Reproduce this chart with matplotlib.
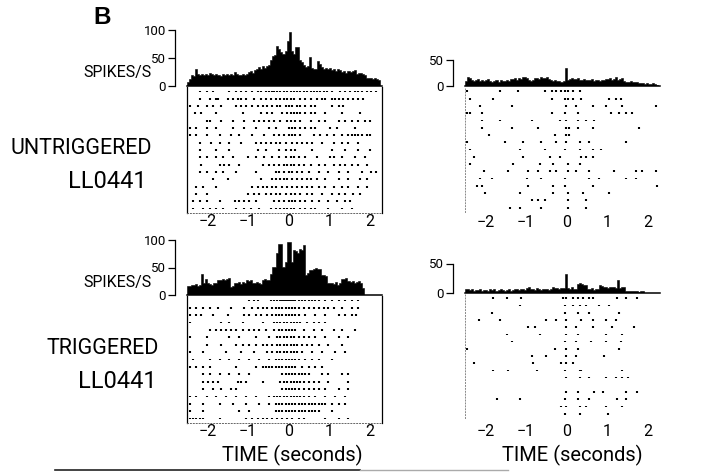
import numpy as np
import matplotlib
matplotlib.use('Agg')
import matplotlib.pyplot as plt
from matplotlib.lines import Line2D

plt.rcParams['font.family'] = ['Roboto', 'DejaVu Sans']

W, H = 714, 472

# bin edges of the rate histograms (seconds), 50 ms bins
bin_edges = np.linspace(-2.5, 2.25, 96)

# spikes/s, untriggered, left cell
u_left_rate = [8, 12, 20, 18, 30, 22, 19, 21, 20, 22,
               19, 23, 21, 20, 22, 20, 18, 21, 20, 22,
               19, 21, 20, 25, 21, 20, 19, 22, 20, 21,
               25, 27, 24, 29, 31, 34, 30, 36, 33, 35,
               38, 46, 53, 55, 71, 66, 60, 58, 62, 80,
               97, 62, 58, 70, 70, 46, 42, 38, 34, 36,
               51, 33, 31, 30, 45, 40, 34, 30, 32, 30,
               33, 29, 31, 27, 30, 28, 25, 26, 24, 27,
               25, 26, 28, 22, 23, 24, 22, 20, 14, 15,
               14, 13, 15, 12, 10]

# spikes/s, untriggered, right cell
u_right_rate = [10, 18, 16, 12, 9, 11, 13, 10, 12, 9,
                11, 14, 9, 7, 10, 12, 8, 11, 10, 9,
                12, 10, 14, 13, 15, 12, 16, 14, 18, 17,
                15, 11, 10, 12, 16, 15, 13, 17, 15, 16,
                17, 14, 12, 10, 11, 9, 10, 8, 10, 35,
                12, 14, 15, 13, 14, 16, 12, 11, 13, 12,
                12, 11, 13, 10, 12, 11, 9, 12, 11, 14,
                13, 15, 12, 14, 18, 12, 13, 15, 9, 8,
                7, 9, 8, 8, 8, 6, 5, 5, 4, 5,
                4, 3, 5, 3, 2]

# spikes/s, triggered, left cell
t_left_rate = [17, 16, 19, 18, 20, 16, 18, 38, 22, 30,
               21, 20, 19, 22, 21, 28, 27, 29, 28, 30,
               31, 15, 16, 22, 21, 23, 20, 24, 22, 27,
               26, 28, 22, 21, 24, 22, 20, 28, 29, 27,
               28, 39, 51, 51, 76, 93, 92, 51, 60, 97,
               96, 60, 82, 80, 76, 83, 82, 91, 36, 40,
               45, 46, 48, 50, 47, 48, 36, 36, 35, 21,
               21, 22, 20, 23, 19, 22, 30, 29, 31, 25,
               24, 26, 22, 23, 25, 22, 12, 0, 0, 0,
               0, 0, 0, 0, 0]

# spikes/s, triggered, right cell
t_right_rate = [6, 7, 5, 6, 4, 5, 5, 6, 4, 5,
                5, 4, 6, 5, 6, 4, 5, 6, 5, 4,
                5, 6, 4, 5, 7, 6, 5, 7, 6, 5,
                9, 10, 7, 6, 5, 8, 6, 5, 7, 6,
                6, 5, 7, 10, 9, 8, 7, 8, 9, 32,
                8, 6, 10, 7, 6, 16, 17, 15, 14, 13,
                7, 6, 8, 5, 6, 7, 14, 12, 10, 11,
                9, 10, 11, 10, 9, 22, 8, 10, 11, 4,
                3, 3, 4, 3, 3, 2, 3, 3, 0, 0,
                0, 0, 0, 0, 0]

# spike times (s) per trial, top trial first
u_left_spikes = [
    [-2.19, -2.02, -1.86, -1.46, -1.29, -1.17, -1.05, -0.89, -0.76, -0.68, -0.56, -0.48, -0.41, -0.36, -0.28, -0.20, -0.11, -0.03, 0.05, 0.13, 0.21, 0.29, 0.37, 0.46, 0.54, 0.62, 0.70, 0.78, 0.86, 0.94, 1.07, 1.27, 1.39, 1.51, 1.63, 1.72, 1.80, 1.92, 2.04, 2.16],
    [-2.19, -1.94, -1.78, -1.74, -1.50, -1.37, -1.25, -1.17, -1.05, -0.85, -0.68, -0.56, -0.44, -0.32, -0.20, -0.11, -0.03, 0.05, 0.13, 0.29, 0.41, 0.54, 0.70, 0.82, 0.90, 1.07, 1.15, 1.23, 1.35, 1.47, 1.59, 1.72, 1.84],
    [-2.43, -2.23, -2.02, -1.86, -1.66, -1.29, -1.17, -1.05, -0.89, -0.76, -0.64, -0.52, -0.40, -0.28, -0.20, -0.07, 0.01, 0.09, 0.21, 0.29, 0.41, 0.54, 0.66, 1.07, 1.23, 1.35],
    [-2.31, -2.15, -1.78, -1.13, -0.68, -0.52, -0.40, -0.15, -0.03, 0.05, 0.13, 0.21, 0.29, 0.41, 0.54, 0.66, 0.90, 1.31, 1.76],
    [-2.02, -1.94, -1.66, -1.37, -1.09, -0.85, -0.72, -0.60, -0.48, -0.36, -0.20, -0.03, 0.05, 0.17, 0.29, 0.54, 0.74, 0.90, 1.23, 1.39, 1.55, 1.72, 1.88, 2.00],
    [-2.43, -2.27, -2.02, -1.78, -1.37, -1.09, -0.80, -0.48, -0.32, 0.01, 0.09, 0.17, 0.29, 0.41, 0.54, 0.66, 1.02, 1.19, 1.63],
    [-2.43, -2.27, -2.02, -1.70, -1.41, -1.21, -0.89, -0.60, -0.36, -0.24, -0.11, 0.01, 0.09, 0.17, 0.29, 0.62, 0.78, 0.94, 1.11, 1.31, 1.47, 1.55, 1.63, 1.72, 1.80, 1.92, 2.00],
    [-2.19, -1.90, -1.70, -1.46, -1.17, -0.80, -0.68, -0.56, -0.44, -0.32, -0.20, -0.07, 0.09, 0.21, 0.33, 0.46, 0.58, 0.82, 1.11, 1.31, 1.47, 1.72],
    [-2.19, -1.78, -1.46, -0.76, -0.56, -0.24, -0.07, 0.05, 0.17, 0.58, 1.07, 1.39, 1.72, 2.00],
    [-2.19, -2.02, -1.78, -1.62, -1.37, -1.01, -0.80, -0.60, -0.40, -0.24, -0.07, 0.05, 0.13, 0.25, 0.41, 0.70, 1.02, 1.11, 1.31, 1.63, 1.88],
    [-2.15, -1.70, -1.58, -1.46, -1.21, -0.64, -0.48, -0.36, -0.24, -0.11, -0.03, 0.05, 0.13, 0.25, 0.37, 0.54, 0.74, 0.90, 1.11, 1.27, 1.39, 1.55, 1.72, 1.92],
    [-2.19, -2.02, -1.78, -1.62, -1.29, -0.80, -0.32, -0.24, -0.11, 0.01, 0.09, 0.21, 0.33, 0.50, 0.74, 0.98, 1.23, 1.47, 1.80, 2.04, 2.16],
    [-1.86, -1.50, -0.68, -0.40, -0.32, -0.20, -0.11, -0.03, 0.09, 0.21, 0.33, 0.46, 0.54, 0.70, 0.90, 1.23, 1.47, 1.76, 1.92],
    [-2.27, -2.11, -1.78, -0.89, -0.76, -0.64, -0.52, -0.40, -0.32, -0.15, -0.03, 0.09, 0.21, 0.33, 0.46, 0.58, 0.74, 0.90, 1.11, 1.31, 1.47, 1.72, 1.92],
    [-2.27, -2.02, -1.01, -0.85, -0.72, -0.56, -0.44, -0.32, -0.20, -0.07, 0.05, 0.17, 0.29, 0.46, 0.58, 0.82, 1.07, 1.23, 1.39, 1.59, 1.76],
    [-2.35, -2.19, -2.02, -1.70, -1.33, -1.21, -1.09, -0.97, -0.80, -0.36, -0.24, -0.11, 0.01, 0.09, 0.17, 0.29, 0.41, 0.58, 0.74, 0.98, 1.19, 1.39, 1.51],
    [-2.35, -2.11, -1.94, -1.78, -1.62, -1.29, -1.09, -0.93, -0.72, -0.44, -0.32, -0.20, -0.11, -0.03, 0.05, 0.13, 0.29, 0.41, 0.54, 0.66, 0.98, 1.31, 1.55],
]

u_right_spikes = [
    [-2.45, -1.63, -1.19, -0.54, -0.37, -0.25, -0.13, -0.05, 0.03, 0.15, 0.32],
    [-2.37, -1.80, -0.37, -0.05, 0.03, 0.15, 0.36, 1.05, 1.21, 1.33],
    [-2.12, -1.35, -0.01, 0.24, 0.64, 0.97, 1.37, 2.19],
    [-2.45, -2.37, -2.08, -0.37, -0.05, 0.28, 1.09, 1.29, 1.46, 1.62],
    [-2.08, -1.63, -0.86, -0.17, -0.01, 0.28, 0.48, 0.68],
    [-2.08, -1.35, -0.70, -0.01, 0.07, 0.28, 0.64, 1.78],
    [-1.92, -0.29, -0.01, 0.07],
    [-2.45, -1.51, -1.07, -0.62, -0.25, -0.01, 0.32, 0.56, 1.46],
    [-2.37, -1.15, -0.54, -0.05, 0.32, 0.64, 0.85],
    [-2.28, -1.07, -0.41, -0.17, 0.36, 0.48, 0.64],
    [-2.37, -1.31, -0.66, -0.33, 0.03, 0.32],
    [-2.04, -1.43, -0.94, -0.70, -0.41, -0.25, 0.03, 0.24, 0.56, 1.17, 1.70, 1.86, 2.19],
    [-2.12, -1.84, -0.98, -0.62, -0.05, 0.56, 0.80, 1.46, 1.70],
    [-2.20, -2.08, -0.94, -0.33, -0.05, 0.64, 2.23],
    [-2.00, -1.15, -0.33, 0.03, 0.40, 1.05],
    [-0.86, -0.70, -0.54, 0.03, 0.48],
    [-1.39, -1.15, -0.62, 0.03, 0.48],
]

t_left_spikes = [
    [-0.97, -0.85, -0.76, -0.44, -0.36, -0.28, -0.20, -0.15, -0.11, -0.07, -0.03, 0.01, 0.05, 0.09, 0.13, 0.17, 0.25, 0.33, 0.41, 0.50, 0.58, 0.66, 0.74, 0.90, 1.07, 1.23, 1.39, 1.55, 1.72],
    [-2.43, -2.27, -2.11, -1.94, -1.74, -1.41, -1.09, -0.89, -0.76, -0.64, -0.52, -0.40, -0.32, -0.24, -0.15, -0.07, 0.01, 0.09, 0.17, 0.25, 0.37, 0.50, 0.62, 0.74, 0.86, 0.98, 1.11, 1.31, 1.55, 1.72],
    [-2.43, -2.27, -2.15, -1.86, -1.50, -1.09, -0.97, -0.80, -0.68, -0.52, -0.40, -0.32, -0.24, -0.15, -0.07, 0.01, 0.09, 0.17, 0.25, 0.41, 0.66, 0.90, 1.23, 1.39, 1.55, 1.67],
    [-2.43, -1.66, -1.46, -1.13, -0.64, -0.36, -0.28, -0.20, -0.11, -0.03, 0.05, 0.13, 0.21, 0.29, 0.46, 0.62, 0.74, 0.90],
    [-1.94, -1.78, -1.66, -1.54, -1.41, -1.29, -1.13, -0.97, -0.85, -0.72, -0.56, -0.36, -0.24, -0.15, -0.07, 0.01, 0.09, 0.17, 0.37, 0.62, 0.82, 1.11, 1.31, 1.63],
    [-2.43, -2.02, -1.46, -1.21, -0.80, -0.48, -0.28, -0.20, -0.11, -0.03, 0.05, 0.13, 0.25, 0.37, 0.50, 0.66, 0.90, 1.23, 1.47],
    [-2.02, -1.66, -1.29, -1.13, -0.97, -0.80, -0.64, -0.52, -0.40, -0.28, -0.20, -0.11, -0.03, 0.05, 0.13, 0.21, 0.33, 0.46, 0.58, 0.74, 0.98, 1.31],
    [-2.43, -2.11, -1.54, -1.17, -0.85, -0.52, -0.40, -0.28, -0.20, -0.11, -0.03, 0.05, 0.13, 0.21, 0.33, 0.58, 0.82, 1.15, 1.39],
    [-2.35, -1.94, -1.70, -1.46, -1.21, -0.97, -0.72, -0.48, -0.32, -0.24, -0.15, -0.07, 0.01, 0.09, 0.17, 0.25, 0.41, 0.58, 0.74, 1.07],
    [-2.43, -2.27, -2.11, -1.94, -1.29, -0.80, -0.64, -0.56, -0.48, -0.40, -0.32, -0.24, -0.15, -0.07, 0.01, 0.09, 0.17, 0.33, 0.50, 0.66, 0.82],
    [-2.11, -1.94, -1.70, -1.46, -1.21, -0.97, -0.15, -0.07, 0.01, 0.09, 0.17, 0.25, 0.33, 0.41, 0.50, 0.82, 0.98, 1.31, 1.47],
    [-2.11, -1.98, -1.86, -1.74, -1.25, -1.17, -1.05, -0.64, -0.20, -0.11, -0.03, 0.05, 0.13, 0.21, 0.29, 0.37, 0.50, 0.62, 0.74, 0.98, 1.47],
    [-2.11, -1.86, -1.66, -1.41, -1.29, -0.15, -0.07, 0.01, 0.09, 0.17, 0.25, 0.37, 0.50, 0.62, 0.74, 0.90, 1.23, 1.47],
    [-2.43, -2.27, -2.02, -1.78, -1.54, -1.29, -1.05, -0.80, -0.48, -0.36, -0.28, -0.20, -0.11, -0.03, 0.05, 0.13, 0.21, 0.29, 0.37, 0.50, 0.66, 0.90, 1.15, 1.39],
    [-2.43, -2.11, -1.70, -1.37, -1.05, -0.72, -0.48, -0.32, -0.24, -0.15, -0.07, 0.01, 0.09, 0.17, 0.25, 0.33, 0.41, 0.50, 0.58, 0.66, 0.74, 0.82, 0.90, 1.07, 1.23, 1.39],
    [-2.43, -2.11, -1.21, -0.97, -0.32, -0.24, -0.15, -0.07, 0.01, 0.09, 0.17, 0.25, 0.33, 0.41, 0.50, 0.58, 0.66, 0.74, 1.07],
    [-2.43, -2.35, -2.27, -2.19, -2.11, -1.70, -1.05, -0.89, -0.76, -0.64, -0.52, -0.40, -0.28, -0.15, -0.03, 0.09, 0.25, 0.37, 0.90, 1.23, 1.47],
]

t_right_spikes = [
    [-1.80, -1.47, -1.11, -0.09, -0.01, 0.15, 0.28, 0.40, 0.56, 0.64, 1.25, 1.46, 1.74],
    [-1.15, -0.05, 0.15, 0.32, 0.48, 0.80, 1.05],
    [-1.84, -0.05, 0.28, 0.56, 1.29],
    [-2.16, -1.63, -0.50, -0.25, -0.01, 0.36, 0.64, 0.97, 1.21],
    [-0.94, -0.78, -0.01, 0.24, 0.64, 1.13, 1.66],
    [-1.47, -0.66, -0.01, 0.28, 0.97, 1.37],
    [-1.35, -0.05, 0.24, 0.60, 0.97, 1.33],
    [-2.45, -0.29, -0.01, 0.28, 1.29],
    [-0.86, -0.50, -0.01, 0.24, 0.93],
    [-2.28, -0.82, -0.13, -0.01, 0.15],
    [-1.80, -1.43, -0.74, -0.05, 0.32, 0.36, 1.37],
    [-0.01, 0.32, 0.56, 0.97, 1.21, 1.37, 1.50],
    [],
    [-0.01, 0.28, 0.68, 0.89, 1.46, 1.74],
    [-1.72, -1.15, -0.05, 0.28, 0.56, 1.25, 1.46],
    [-0.13, -0.01, 0.32, 0.48, 0.97, 1.37],
    [-0.05, 0.32, 1.01],
]

time_ticks = [-2, -1, 0, 1, 2]
time_labels = ['\u22122', '\u22121', '0', '1', '2']
x_range = (-2.5, 2.3)


def px_axes(fig, x0, x1, ytop, ybot):
    return fig.add_axes([x0 / W, 1 - ybot / H, (x1 - x0) / W, (ybot - ytop) / H])


def draw_hist(ax, rate, yticks):
    ax.stairs(rate, bin_edges, fill=True, facecolor='black',
              edgecolor='black', lw=0.4)
    ax.set_xlim(*x_range)
    ax.set_ylim(0, 100)
    for s in ['top', 'right']:
        ax.spines[s].set_visible(False)
    ax.spines['bottom'].set_linewidth(1.1)
    ax.spines['left'].set_position(('outward', 9))
    ax.spines['left'].set_bounds(0, yticks[-1])
    ax.spines['left'].set_linewidth(0.9)
    ax.set_xticks([])
    ax.set_yticks(yticks)
    ax.tick_params(axis='y', length=5, width=0.9, pad=1, labelsize=9.5)
    ax.patch.set_alpha(0)


def draw_raster(ax, spikes, boxed, pad):
    rows = list(range(1, len(spikes) + 1))
    ax.eventplot(spikes, lineoffsets=rows, linelengths=0.24,
                 linewidths=1.5, colors='black')
    ax.set_xlim(*x_range)
    ax.set_ylim(len(spikes) + 0.6, 0.4)
    ax.set_yticks([])
    ax.set_xticks(time_ticks)
    ax.set_xticklabels(time_labels)
    ax.tick_params(axis='x', length=0, pad=pad, labelsize=11.5)
    ax.spines['top'].set_visible(False)
    if boxed:
        ax.spines['left'].set_linewidth(0.9)
        ax.spines['right'].set_linewidth(0.9)
        ax.spines['bottom'].set_linestyle((0, (1, 2)))
        ax.spines['bottom'].set_linewidth(0.7)
        ax.spines['bottom'].set_color('#666666')
    else:
        ax.spines['right'].set_visible(False)
        ax.spines['bottom'].set_visible(False)
        ax.spines['left'].set_linestyle((0, (1, 2)))
        ax.spines['left'].set_linewidth(0.7)
        ax.spines['left'].set_color('#888888')


fig = plt.figure(figsize=(W / 100, H / 100), dpi=100)

ax = px_axes(fig, 187, 382, 30, 86)
draw_hist(ax, u_left_rate, [0, 50, 100])
ax = px_axes(fig, 187, 382, 87, 213)
draw_raster(ax, u_left_spikes, True, 0.5)

ax = px_axes(fig, 465, 660, 34, 86)
draw_hist(ax, u_right_rate, [0, 50])
ax = px_axes(fig, 465, 660, 87, 212)
draw_raster(ax, u_right_spikes, False, 2.5)

ax = px_axes(fig, 187, 382, 240, 295)
draw_hist(ax, t_left_rate, [0, 50, 100])
ax = px_axes(fig, 187, 382, 296, 423)
draw_raster(ax, t_left_spikes, True, 1)

ax = px_axes(fig, 465, 660, 234, 293)
draw_hist(ax, t_right_rate, [0, 50])
ax = px_axes(fig, 465, 660, 294, 418)
draw_raster(ax, t_right_spikes, False, 4)

# labels
fig.text(102 / W, 1 - 18 / H, 'B', fontsize=17.5, fontweight='bold',
         family=['Liberation Sans', 'DejaVu Sans'], ha='center', va='center')
fig.text(152 / W, 1 - 73 / H, 'SPIKES/S', fontsize=11.5, ha='right', va='center')
fig.text(152 / W, 1 - 282 / H, 'SPIKES/S', fontsize=11.5, ha='right', va='center')
fig.text(152 / W, 1 - 148 / H, 'UNTRIGGERED', fontsize=15.5, ha='right', va='center')
fig.text(147 / W, 1 - 181 / H, 'LL0441', fontsize=17, ha='right', va='center')
fig.text(159 / W, 1 - 349 / H, 'TRIGGERED', fontsize=15.5, ha='right', va='center')
fig.text(157 / W, 1 - 382 / H, 'LL0441', fontsize=17, ha='right', va='center')
fig.text(292 / W, 1 - 455 / H, 'TIME (seconds)', fontsize=14.5, ha='center', va='center')
fig.text(572 / W, 1 - 455 / H, 'TIME (seconds)', fontsize=14.5, ha='center', va='center')

# rule under the panel
fig.add_artist(Line2D([55 / W, 360 / W], [1 - 470 / H, 1 - 470 / H], color='#222222', lw=1.2))
fig.add_artist(Line2D([360 / W, 508 / W], [1 - 470 / H, 1 - 470 / H], color='#aaaaaa', lw=1.0))

fig.savefig('out.png', dpi=100)
